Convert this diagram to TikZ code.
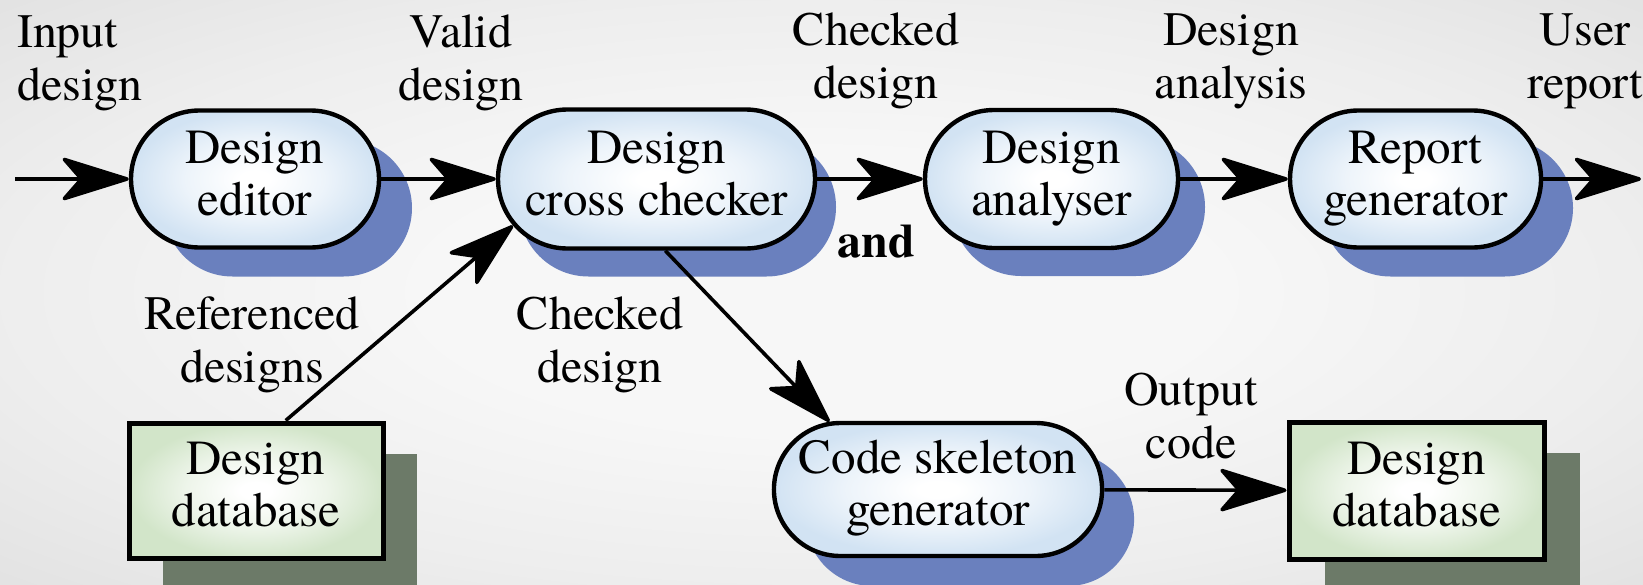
\documentclass[tikz,border=0pt]{standalone}
\usepackage{fontspec}
\setmainfont{texgyretermes}[Extension=.otf, UprightFont=*-regular, BoldFont=*-bold, ItalicFont=*-italic, BoldItalicFont=*-bolditalic]
\usetikzlibrary{arrows.meta,shapes.misc,shadows}

\definecolor{shblue}{RGB}{106,128,190}
\definecolor{boxblue}{RGB}{210,227,243}
\definecolor{dbgreen}{RGB}{210,229,201}
\definecolor{dbshadow}{RGB}{108,122,104}
\definecolor{bgedge}{RGB}{226,226,226}
\definecolor{bgmid}{RGB}{247,247,247}

% soft page background and glowing box fills
\pgfdeclareradialshading{bgglow}{\pgfpoint{0bp}{0bp}}{color(0bp)=(bgmid); color(12bp)=(bgmid); color(25bp)=(bgmid!55!bgedge); color(36bp)=(bgedge); color(50bp)=(bgedge)}
\pgfdeclareradialshading{procglow}{\pgfpoint{0bp}{0bp}}{color(0bp)=(white); color(3bp)=(white); color(14bp)=(boxblue!40!white); color(25bp)=(boxblue); color(50bp)=(boxblue)}
\pgfdeclareradialshading{storeglow}{\pgfpoint{0bp}{0bp}}{color(0bp)=(white); color(3bp)=(white); color(14bp)=(dbgreen!40!white); color(25bp)=(dbgreen); color(50bp)=(dbgreen)}

\newcommand\lblfont{\rmfamily\fontsize{24}{26.5}\selectfont}
\newcommand\boxfont{\rmfamily\fontsize{24.5}{26}\selectfont}
\newcommand\andfont{\rmfamily\fontsize{24}{26}\selectfont\bfseries}

\begin{document}
\begin{tikzpicture}[x=0.5pt,y=-0.5pt,
  lbl/.style={font=\lblfont, align=center, inner sep=0pt},
  proc/.style={rounded rectangle, draw, line width=2.2pt, shading=procglow, shade,
    font=\boxfont, align=center, inner sep=0pt},
  store/.style={rectangle, draw, line width=2.5pt, shading=storeglow, shade,
    font=\boxfont, align=center, inner sep=0pt},
  procshadow/.style 2 args={general shadow={fill=shblue, shadow xshift=#1, shadow yshift=#2}},
  storeshadow/.style 2 args={general shadow={fill=dbshadow, shadow xshift=#1, shadow yshift=#2}},
  flow/.style={line width=1.8pt, -{Stealth[length=37pt,width=23pt,inset=10pt,round]}},
]
\useasboundingbox (0,0) rectangle (1643,584);
\shade[shading=bgglow] (0,0) rectangle (1643,584);

% processing stages
\node[proc, minimum width=124pt, minimum height=68.5pt, procshadow={16.5pt}{-14.5pt}]
  (editor) at (255,179) {\strut Design\\editor\strut};
\node[proc, minimum width=158.5pt, minimum height=69.5pt, procshadow={10.5pt}{-14pt}]
  (checker) at (656.5,179) {\strut Design\\cross checker\strut};
\node[proc, minimum width=126.5pt, minimum height=69pt, procshadow={13.5pt}{-14pt}]
  (analyser) at (1051.5,179) {\strut Design\\analyser\strut};
\node[proc, minimum width=125.5pt, minimum height=68.5pt, procshadow={16pt}{-14.5pt}]
  (report) at (1415.5,179) {\strut Report\\generator\strut};
\node[proc, minimum width=155pt, minimum height=66.5pt, procshadow={16pt}{-15pt}]
  (code) at (938,489.5) {\strut Code skeleton\\generator\strut};

% data stores
\node[store, minimum width=127pt, minimum height=67.5pt, storeshadow={17pt}{-15.5pt}]
  (db1) at (256,490.5) {\strut Design\\database\strut};
\node[store, minimum width=127.5pt, minimum height=68.5pt, storeshadow={18pt}{-15.5pt}]
  (db2) at (1416.5,490.5) {\strut Design\\database\strut};

% free ends of the main flow
\coordinate (src) at (15,179);
\coordinate (sink) at (1641,179);

% data flows
\draw[flow] (src) -- (editor);
\draw[flow] (editor) -- (checker);
\draw[flow] (checker) -- (analyser);
\draw[flow] (analyser) -- (report);
\draw[flow] (report) -- (sink);
\draw[flow] (db1.67) -- (checker.198);
\draw[flow] (checker.277) -- (code.148);
\draw[flow] (code) -- (db2);

% flow labels
\node[lbl, anchor=west, align=left] (lin) at (17,63) {\strut Input\\design\strut};
\node[lbl] (lvalid) at (461,63) {\strut Valid\\design\strut};
\node[lbl] (lchecked) at (876,61) {\strut Checked\\design\strut};
\node[lbl] (lanalysis) at (1231,61) {\strut Design\\analysis\strut};
\node[lbl] (luser) at (1585,61) {\strut User\\report\strut};
\node[lbl] (lref) at (252,345) {\strut Referenced\\designs\strut};
\node[lbl] (lchecked2) at (600,345) {\strut Checked\\design\strut};
\node[lbl] (lout) at (1191,421) {\strut Output\\code\strut};
\node[font=\andfont, inner sep=0pt, anchor=base] (land) at (876,257) {and};
\end{tikzpicture}
\end{document}
